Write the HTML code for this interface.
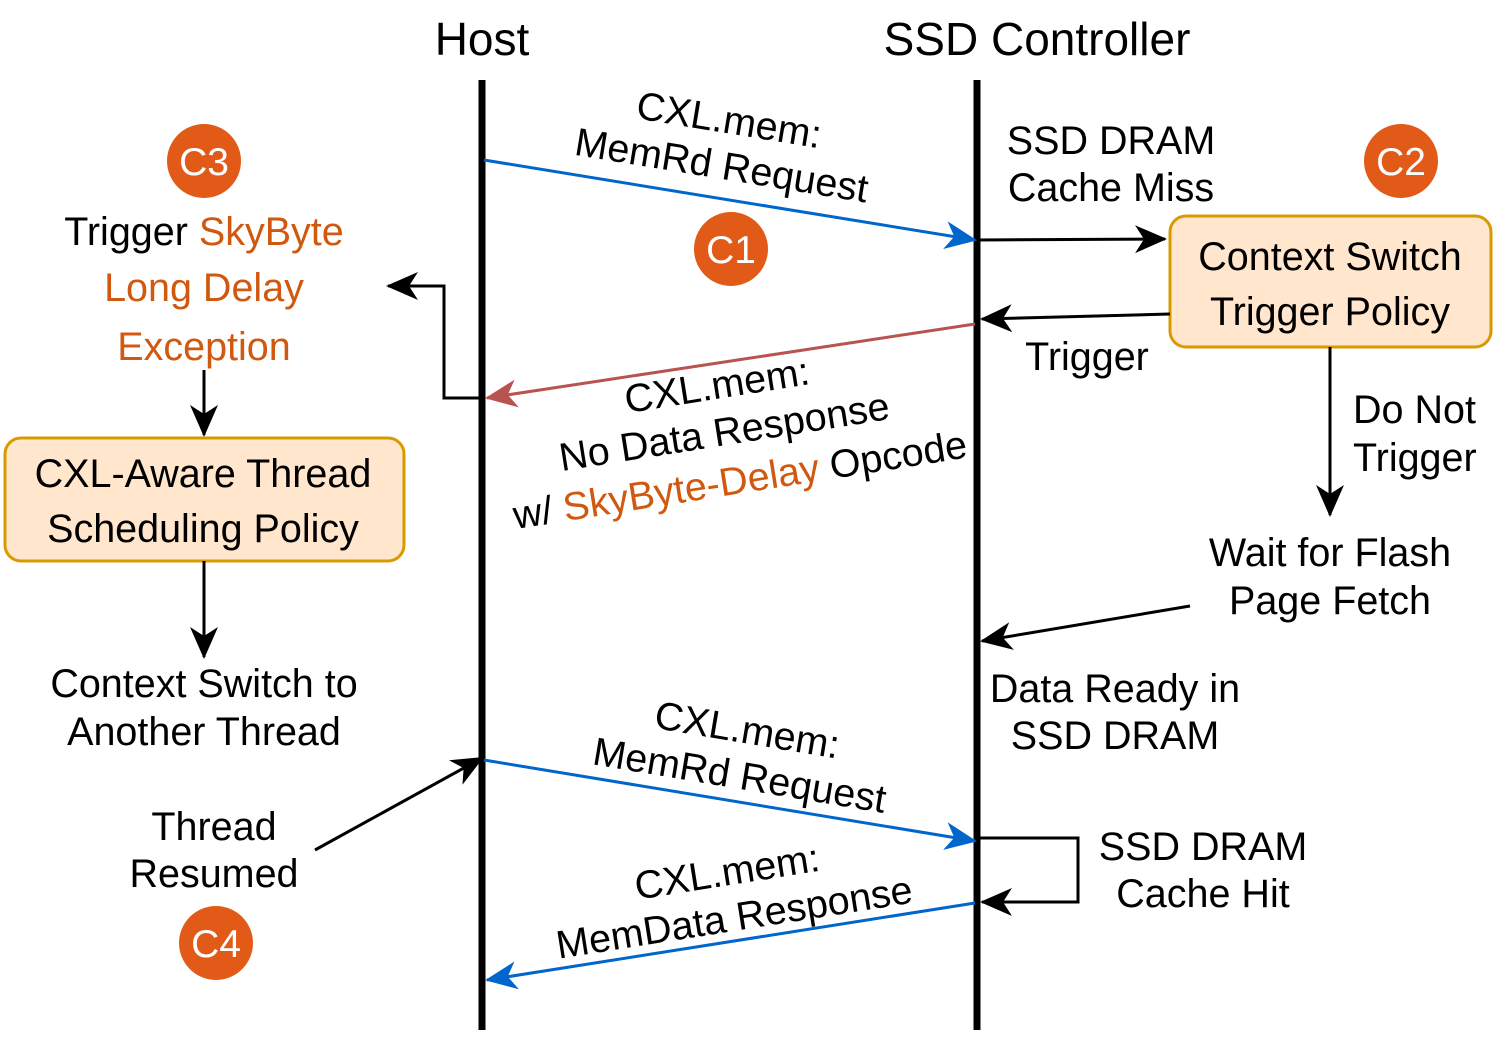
<!DOCTYPE html>
<html><head><meta charset="utf-8"><style>
html,body{margin:0;padding:0;background:#fff}
svg{display:block}
text{font-family:"Liberation Sans",sans-serif;font-size:39.5px;fill:#000;text-anchor:middle}
.o{fill:#d0580f}
.c{fill:#fff;font-size:39px}
</style></head><body>
<svg width="1494" height="1048" viewBox="0 0 1494 1048">
<defs>
<marker id="k" markerUnits="userSpaceOnUse" markerWidth="34" markerHeight="28" refX="30" refY="14" orient="auto"><path d="M0,0 L32,14 L0,28 L9,14 z" fill="#000"/></marker>
<marker id="b" markerUnits="userSpaceOnUse" markerWidth="34" markerHeight="28" refX="30" refY="14" orient="auto"><path d="M0,0 L32,14 L0,28 L9,14 z" fill="#0066cc"/></marker>
<marker id="r" markerUnits="userSpaceOnUse" markerWidth="34" markerHeight="28" refX="30" refY="14" orient="auto"><path d="M0,0 L32,14 L0,28 L9,14 z" fill="#b85450"/></marker>
</defs>
<text x="482" y="55" style="font-size:46px">Host</text>
<text x="1037" y="55" style="font-size:46px">SSD Controller</text>
<line x1="482" y1="80" x2="482" y2="1030" stroke="#000" stroke-width="7"/>
<line x1="977" y1="80" x2="977" y2="1030" stroke="#000" stroke-width="7"/>

<line x1="484" y1="160" x2="975" y2="240" stroke="#0066cc" stroke-width="3" marker-end="url(#b)"/>
<g transform="translate(725,145) rotate(9.3)"><text x="0" y="-12">CXL.mem:</text><text x="0" y="34">MemRd Request</text></g>

<circle cx="731" cy="249" r="37" fill="#e15a17"/><text class="c" x="731" y="263">C1</text>
<circle cx="1401" cy="161" r="37" fill="#e15a17"/><text class="c" x="1401" y="175">C2</text>
<circle cx="204" cy="161" r="37" fill="#e15a17"/><text class="c" x="204" y="175">C3</text>
<circle cx="216" cy="943" r="37" fill="#e15a17"/><text class="c" x="216" y="957">C4</text>

<text x="1111" y="154">SSD DRAM</text><text x="1111" y="201">Cache Miss</text>
<line x1="977" y1="240" x2="1165" y2="239" stroke="#000" stroke-width="3" marker-end="url(#k)"/>
<rect x="1170" y="216" width="321" height="131" rx="16" fill="#ffe6cc" stroke="#d79b00" stroke-width="3"/>
<text x="1330" y="270">Context Switch</text><text x="1330" y="325">Trigger Policy</text>
<line x1="1170" y1="314" x2="982" y2="319" stroke="#000" stroke-width="3" marker-end="url(#k)"/>
<text x="1087" y="370">Trigger</text>

<line x1="975" y1="324" x2="487" y2="398" stroke="#b85450" stroke-width="3" marker-end="url(#r)"/>
<g transform="translate(726,443) rotate(-9)"><text x="0" y="-45">CXL.mem:</text><text x="0" y="2">No Data Response</text><text x="8" y="52">w/ <tspan class="o">SkyByte-Delay</tspan> Opcode</text></g>
<polyline points="484,398 444,398 444,286 388,286" fill="none" stroke="#000" stroke-width="3" marker-end="url(#k)"/>

<line x1="1330" y1="347" x2="1330" y2="515" stroke="#000" stroke-width="3" marker-end="url(#k)"/>
<text x="1353" y="423" style="text-anchor:start">Do Not</text><text x="1353" y="471" style="text-anchor:start">Trigger</text>
<text x="1330" y="566">Wait for Flash</text><text x="1330" y="614">Page Fetch</text>
<line x1="1190" y1="606" x2="982" y2="641" stroke="#000" stroke-width="3" marker-end="url(#k)"/>
<text x="1115" y="702">Data Ready in</text><text x="1115" y="749">SSD DRAM</text>

<line x1="484" y1="760" x2="975" y2="841" stroke="#0066cc" stroke-width="3" marker-end="url(#b)"/>
<g transform="translate(743,755) rotate(9.5)"><text x="0" y="-12">CXL.mem:</text><text x="0" y="34">MemRd Request</text></g>
<polyline points="977,838 1078,838 1078,902 982,902" fill="none" stroke="#000" stroke-width="3" marker-end="url(#k)"/>
<text x="1203" y="860">SSD DRAM</text><text x="1203" y="907">Cache Hit</text>
<line x1="975" y1="903" x2="487" y2="980" stroke="#0066cc" stroke-width="3" marker-end="url(#b)"/>
<g transform="translate(731,897) rotate(-9)"><text x="0" y="-12">CXL.mem:</text><text x="0" y="34">MemData Response</text></g>

<text x="214" y="840">Thread</text><text x="214" y="887">Resumed</text>
<line x1="315" y1="850" x2="482" y2="758" stroke="#000" stroke-width="3" marker-end="url(#k)"/>

<text x="204" y="245">Trigger <tspan class="o">SkyByte</tspan></text>
<text x="204" y="301" class="o">Long Delay</text>
<text x="204" y="360" class="o">Exception</text>
<line x1="204" y1="370" x2="204" y2="435" stroke="#000" stroke-width="3" marker-end="url(#k)"/>
<rect x="5" y="438" width="399" height="123" rx="16" fill="#ffe6cc" stroke="#d79b00" stroke-width="3"/>
<text x="203" y="487">CXL-Aware Thread</text><text x="203" y="542">Scheduling Policy</text>
<line x1="204" y1="561" x2="204" y2="657" stroke="#000" stroke-width="3" marker-end="url(#k)"/>
<text x="204" y="697">Context Switch to</text><text x="204" y="745">Another Thread</text>
</svg>
</body></html>
